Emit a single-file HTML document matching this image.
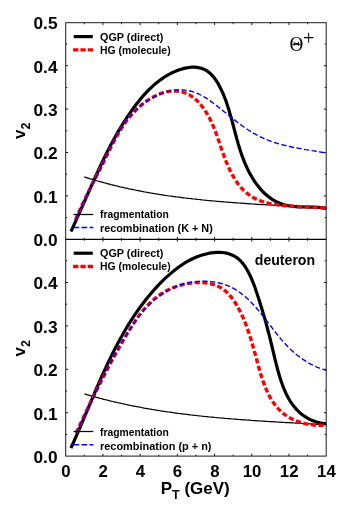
<!DOCTYPE html>
<html><head><meta charset="utf-8"><title>v2 plot</title>
<style>html,body{margin:0;padding:0;background:#fff}svg{display:block}</style></head>
<body>
<svg width="349" height="522" viewBox="0 0 349 522" style="will-change:transform">
<rect width="349" height="522" fill="#fff"/>
<defs><clipPath id="ct"><rect x="65.7" y="22.7" width="260.5" height="216.60000000000002"/></clipPath><clipPath id="cb"><rect x="65.7" y="239.3" width="260.5" height="216.8"/></clipPath></defs>
<g clip-path="url(#ct)" fill="none" stroke-linejoin="round">
<path d="M70.9,231.5 L72.1,229.1 L73.2,226.6 L74.3,224.1 L75.5,221.7 L76.6,219.2 L77.7,216.7 L78.8,214.3 L79.9,211.8 L81.0,209.3 L82.1,206.8 L83.2,204.3 L84.3,201.8 L85.4,199.4 L86.5,196.9 L87.6,194.4 L88.7,191.9 L89.8,189.4 L90.9,186.9 L92.0,184.4 L93.1,182.0 L94.2,179.5 L95.3,177.0 L96.4,174.5 L97.6,172.1 L98.7,169.6 L99.8,167.1 L101.0,164.7 L102.2,162.2 L103.3,159.8 L104.5,157.4 L105.7,154.9 L106.9,152.5 L108.1,150.1 L109.4,147.7 L110.6,145.3 L111.9,142.9 L113.2,140.5 L114.5,138.2 L115.8,135.8 L117.1,133.5 L118.5,131.1 L119.9,128.8 L121.2,126.5 L122.7,124.2 L124.1,121.9 L125.6,119.6 L127.0,117.3 L128.6,115.1 L130.1,112.9 L131.7,110.6 L133.2,108.4 L134.8,106.3 L136.5,104.1 L138.2,101.9 L139.9,99.8 L141.6,97.7 L143.4,95.6 L145.2,93.6 L147.1,91.6 L149.0,89.7 L150.9,87.8 L152.9,85.9 L155.0,84.1 L157.1,82.4 L159.2,80.7 L161.5,79.1 L163.7,77.5 L166.1,76.0 L168.5,74.7 L171.0,73.3 L173.5,72.1 L176.1,71.0 L178.7,70.0 L181.4,69.2 L184.0,68.4 L186.6,67.9 L189.3,67.5 L191.8,67.2 L194.4,67.2 L196.9,67.4 L199.3,67.8 L201.7,68.4 L203.9,69.2 L206.1,70.4 L208.1,71.7 L210.1,73.3 L211.9,75.1 L213.6,77.1 L215.3,79.3 L216.8,81.5 L218.3,83.9 L219.6,86.4 L220.9,89.0 L222.1,91.5 L223.3,94.1 L224.3,96.7 L225.3,99.3 L226.3,101.9 L227.2,104.6 L228.0,107.2 L228.9,109.8 L229.6,112.5 L230.4,115.1 L231.2,117.8 L231.9,120.4 L232.6,123.0 L233.3,125.7 L234.0,128.3 L234.7,131.0 L235.4,133.6 L236.1,136.2 L236.8,138.9 L237.6,141.5 L238.3,144.1 L239.1,146.7 L239.9,149.2 L240.7,151.8 L241.6,154.4 L242.5,156.9 L243.5,159.4 L244.4,161.9 L245.5,164.4 L246.6,166.9 L247.7,169.3 L248.9,171.8 L250.2,174.2 L251.6,176.5 L253.0,178.9 L254.4,181.1 L256.0,183.4 L257.6,185.5 L259.3,187.6 L261.0,189.7 L262.8,191.6 L264.7,193.5 L266.7,195.2 L268.7,196.9 L270.8,198.4 L273.0,199.8 L275.3,201.1 L277.6,202.3 L280.1,203.3 L282.6,204.2 L285.1,205.0 L287.8,205.6 L290.5,206.0 L293.3,206.4 L296.1,206.6 L298.9,206.8 L301.8,206.9 L304.7,207.0 L307.5,207.0 L310.4,207.1 L313.2,207.2 L315.9,207.3 L318.6,207.4 L321.3,207.6 L323.8,207.9 L326.3,208.3" stroke="#000" stroke-width="3.2"/>
<path d="M84.3,176.9 L85.8,177.4 L87.2,177.8 L88.7,178.3 L90.2,178.8 L91.7,179.2 L93.2,179.7 L94.6,180.1 L96.1,180.5 L97.6,181.0 L99.1,181.4 L100.6,181.8 L102.0,182.2 L103.5,182.6 L105.0,183.0 L106.5,183.4 L108.0,183.8 L109.5,184.2 L111.0,184.6 L112.5,184.9 L114.0,185.3 L115.5,185.7 L117.0,186.0 L118.4,186.4 L119.9,186.8 L121.4,187.1 L122.9,187.4 L124.4,187.8 L125.9,188.1 L127.4,188.4 L128.9,188.8 L130.4,189.1 L131.9,189.4 L133.5,189.7 L135.0,190.0 L136.5,190.3 L138.0,190.6 L139.5,190.9 L141.0,191.2 L142.5,191.5 L144.0,191.8 L145.5,192.0 L147.0,192.3 L148.5,192.6 L150.1,192.9 L151.6,193.1 L153.1,193.4 L154.6,193.6 L156.1,193.9 L157.6,194.1 L159.1,194.4 L160.7,194.6 L162.2,194.8 L163.7,195.1 L165.2,195.3 L166.7,195.5 L168.3,195.8 L169.8,196.0 L171.3,196.2 L172.8,196.4 L174.3,196.6 L175.9,196.8 L177.4,197.0 L178.9,197.2 L180.4,197.4 L182.0,197.6 L183.5,197.8 L185.0,198.0 L186.5,198.2 L188.1,198.3 L189.6,198.5 L191.1,198.7 L192.7,198.9 L194.2,199.0 L195.7,199.2 L197.3,199.4 L198.8,199.5 L200.3,199.7 L201.8,199.9 L203.4,200.0 L204.9,200.2 L206.4,200.3 L208.0,200.5 L209.5,200.6 L211.0,200.8 L212.6,200.9 L214.1,201.0 L215.6,201.2 L217.2,201.3 L218.7,201.4 L220.2,201.6 L221.8,201.7 L223.3,201.8 L224.9,202.0 L226.4,202.1 L227.9,202.2 L229.5,202.3 L231.0,202.4 L232.5,202.6 L234.1,202.7 L235.6,202.8 L237.2,202.9 L238.7,203.0 L240.2,203.1 L241.8,203.2 L243.3,203.3 L244.8,203.4 L246.4,203.6 L247.9,203.7 L249.5,203.8 L251.0,203.9 L252.5,204.0 L254.1,204.1 L255.6,204.2 L257.2,204.3 L258.7,204.4 L260.2,204.5 L261.8,204.5 L263.3,204.6 L264.8,204.7 L266.4,204.8 L267.9,204.9 L269.5,205.0 L271.0,205.1 L272.5,205.2 L274.1,205.3 L275.6,205.4 L277.2,205.5 L278.7,205.6 L280.2,205.6 L281.8,205.7 L283.3,205.8 L284.9,205.9 L286.4,206.0 L287.9,206.1 L289.5,206.2 L291.0,206.3 L292.5,206.3 L294.1,206.4 L295.6,206.5 L297.1,206.6 L298.7,206.7 L300.2,206.8 L301.8,206.9 L303.3,207.0 L304.8,207.1 L306.4,207.2 L307.9,207.2 L309.4,207.3 L311.0,207.4 L312.5,207.5 L314.0,207.6 L315.6,207.7 L317.1,207.8 L318.6,207.9 L320.2,208.0 L321.7,208.1 L323.2,208.2 L324.8,208.3 L326.3,208.4" stroke="#000" stroke-width="1.25"/>
<path d="M75.6,219.9 L76.5,217.7 L77.5,215.4 L78.4,213.2 L79.4,211.0 L80.4,208.8 L81.4,206.6 L82.4,204.4 L83.4,202.2 L84.5,200.0 L85.5,197.9 L86.6,195.7 L87.6,193.5 L88.7,191.4 L89.8,189.2 L90.9,187.1 L92.0,184.9 L93.0,182.7 L94.1,180.6 L95.2,178.5 L96.3,176.3 L97.4,174.2 L98.5,172.0 L99.6,169.9 L100.7,167.7 L101.8,165.6 L102.9,163.4 L104.0,161.3 L105.1,159.1 L106.1,156.9 L107.2,154.8 L108.3,152.6 L109.4,150.4 L110.4,148.3 L111.5,146.1 L112.6,144.0 L113.7,141.8 L114.9,139.7 L116.0,137.6 L117.2,135.5 L118.4,133.4 L119.6,131.3 L120.9,129.3 L122.1,127.3 L123.5,125.3 L124.8,123.3 L126.2,121.3 L127.7,119.4 L129.2,117.5 L130.7,115.7 L132.3,113.8 L134.0,112.0 L135.7,110.3 L137.4,108.6 L139.3,106.9 L141.2,105.2 L143.1,103.7 L145.2,102.1 L147.2,100.7 L149.3,99.3 L151.5,98.0 L153.7,96.8 L155.9,95.7 L158.1,94.6 L160.4,93.7 L162.7,92.9 L164.9,92.3 L167.2,91.7 L169.5,91.3 L171.8,91.1 L174.1,91.0 L176.4,91.0 L178.6,91.3 L180.9,91.7 L183.1,92.2 L185.2,93.0 L187.3,93.9 L189.4,94.9 L191.4,96.1 L193.3,97.5 L195.1,99.0 L196.9,100.6 L198.6,102.3 L200.2,104.1 L201.8,106.0 L203.2,107.9 L204.6,109.9 L206.0,111.9 L207.2,114.0 L208.4,116.1 L209.6,118.2 L210.7,120.4 L211.7,122.6 L212.7,124.8 L213.6,127.0 L214.5,129.3 L215.4,131.5 L216.3,133.8 L217.1,136.1 L217.9,138.4 L218.7,140.7 L219.5,143.0 L220.3,145.4 L221.1,147.7 L221.9,150.0 L222.7,152.4 L223.6,154.7 L224.4,157.0 L225.3,159.3 L226.2,161.7 L227.2,163.9 L228.1,166.2 L229.2,168.5 L230.2,170.7 L231.3,172.9 L232.5,175.1 L233.7,177.2 L235.0,179.3 L236.3,181.3 L237.6,183.3 L239.1,185.1 L240.6,187.0 L242.1,188.7 L243.7,190.4 L245.4,192.0 L247.2,193.4 L249.0,194.8 L250.9,196.1 L252.8,197.3 L254.8,198.4 L256.9,199.4 L259.1,200.3 L261.3,201.1 L263.5,201.8 L265.8,202.5 L268.1,203.1 L270.5,203.6 L272.9,204.1 L275.3,204.5 L277.8,204.9 L280.2,205.2 L282.7,205.5 L285.2,205.7 L287.7,205.9 L290.1,206.1 L292.6,206.2 L295.1,206.4 L297.5,206.5 L300.0,206.6 L302.4,206.7 L304.9,206.8 L307.3,206.9 L309.7,207.0 L312.1,207.1 L314.5,207.2 L316.9,207.4 L319.2,207.6 L321.6,207.8 L323.9,208.0 L326.3,208.3" stroke="#ff0000" stroke-width="3.4" stroke-dasharray="5.1 2.6"/>
<path d="M75.6,219.9 L76.4,217.9 L77.3,215.9 L78.1,214.0 L79.0,212.0 L79.9,210.1 L80.7,208.1 L81.6,206.2 L82.6,204.3 L83.5,202.4 L84.4,200.5 L85.4,198.6 L86.3,196.7 L87.3,194.8 L88.2,192.9 L89.2,191.0 L90.1,189.1 L91.1,187.2 L92.1,185.3 L93.0,183.5 L94.0,181.6 L94.9,179.7 L95.9,177.8 L96.8,175.9 L97.8,174.0 L98.7,172.1 L99.7,170.2 L100.6,168.3 L101.5,166.3 L102.4,164.4 L103.3,162.5 L104.2,160.5 L105.1,158.6 L106.0,156.7 L106.9,154.7 L107.8,152.8 L108.7,150.8 L109.7,148.9 L110.6,147.0 L111.5,145.1 L112.5,143.2 L113.5,141.3 L114.5,139.4 L115.5,137.5 L116.5,135.6 L117.6,133.8 L118.6,131.9 L119.7,130.1 L120.9,128.3 L122.1,126.5 L123.3,124.8 L124.5,123.0 L125.8,121.3 L127.1,119.6 L128.4,118.0 L129.8,116.3 L131.3,114.7 L132.8,113.1 L134.3,111.6 L135.9,110.1 L137.5,108.6 L139.1,107.2 L140.8,105.8 L142.5,104.4 L144.3,103.1 L146.1,101.8 L147.9,100.6 L149.7,99.4 L151.6,98.3 L153.5,97.3 L155.4,96.3 L157.3,95.4 L159.2,94.5 L161.2,93.7 L163.2,93.0 L165.2,92.3 L167.2,91.7 L169.2,91.2 L171.2,90.8 L173.2,90.4 L175.2,90.1 L177.2,90.0 L179.2,89.9 L181.2,89.8 L183.2,89.9 L185.2,90.1 L187.2,90.4 L189.2,90.7 L191.1,91.2 L193.1,91.8 L195.0,92.4 L196.9,93.2 L198.8,94.0 L200.7,95.0 L202.5,96.0 L204.4,97.1 L206.2,98.2 L208.0,99.4 L209.9,100.6 L211.6,101.9 L213.4,103.2 L215.2,104.6 L217.0,105.9 L218.7,107.3 L220.4,108.7 L222.2,110.1 L223.9,111.5 L225.6,112.8 L227.3,114.2 L229.0,115.6 L230.7,116.9 L232.4,118.3 L234.0,119.6 L235.7,120.9 L237.4,122.2 L239.1,123.5 L240.8,124.7 L242.5,126.0 L244.2,127.2 L246.0,128.4 L247.7,129.5 L249.4,130.7 L251.2,131.8 L253.0,132.9 L254.8,133.9 L256.6,134.9 L258.4,135.9 L260.3,136.8 L262.2,137.7 L264.1,138.6 L266.0,139.4 L268.0,140.2 L269.9,140.9 L271.9,141.7 L274.0,142.3 L276.0,143.0 L278.0,143.6 L280.1,144.2 L282.2,144.7 L284.3,145.3 L286.4,145.8 L288.5,146.3 L290.6,146.7 L292.7,147.2 L294.8,147.6 L297.0,148.0 L299.1,148.4 L301.2,148.8 L303.3,149.2 L305.5,149.6 L307.6,149.9 L309.7,150.3 L311.8,150.6 L313.9,150.9 L316.0,151.3 L318.1,151.6 L320.2,152.0 L322.2,152.3 L324.3,152.7 L326.3,153.0" stroke="#0000ff" stroke-width="1.4" stroke-dasharray="5.2 2.5"/>
</g>
<g clip-path="url(#cb)" fill="none" stroke-linejoin="round">
<path d="M70.9,448.0 L72.1,445.3 L73.4,442.6 L74.6,439.9 L75.8,437.1 L77.0,434.4 L78.2,431.7 L79.4,428.9 L80.5,426.2 L81.7,423.4 L82.9,420.7 L84.1,417.9 L85.2,415.1 L86.4,412.4 L87.6,409.6 L88.7,406.8 L89.9,404.1 L91.1,401.3 L92.2,398.6 L93.4,395.8 L94.6,393.0 L95.7,390.3 L96.9,387.5 L98.1,384.8 L99.3,382.0 L100.5,379.3 L101.7,376.5 L103.0,373.8 L104.2,371.1 L105.5,368.4 L106.7,365.7 L108.0,363.0 L109.3,360.3 L110.6,357.6 L111.9,354.9 L113.2,352.2 L114.5,349.6 L115.9,346.9 L117.3,344.3 L118.7,341.7 L120.1,339.1 L121.6,336.5 L123.0,333.9 L124.5,331.3 L126.0,328.7 L127.5,326.2 L129.1,323.7 L130.7,321.2 L132.3,318.7 L133.9,316.2 L135.6,313.7 L137.2,311.3 L139.0,308.8 L140.7,306.4 L142.5,304.1 L144.3,301.7 L146.1,299.3 L148.0,297.0 L149.9,294.7 L151.9,292.4 L153.8,290.2 L155.9,287.9 L157.9,285.7 L160.0,283.5 L162.1,281.4 L164.3,279.2 L166.5,277.1 L168.8,275.1 L171.1,273.1 L173.4,271.1 L175.8,269.3 L178.2,267.4 L180.7,265.7 L183.2,264.0 L185.7,262.4 L188.4,260.9 L191.0,259.5 L193.7,258.2 L196.5,257.0 L199.3,256.0 L202.2,255.0 L205.1,254.2 L208.0,253.5 L211.0,252.9 L213.9,252.6 L216.8,252.4 L219.7,252.3 L222.5,252.5 L225.3,252.9 L228.0,253.5 L230.6,254.4 L233.1,255.4 L235.5,256.8 L237.8,258.4 L239.9,260.2 L241.8,262.3 L243.7,264.6 L245.4,267.0 L247.0,269.7 L248.5,272.4 L249.9,275.2 L251.3,278.1 L252.5,281.1 L253.7,284.1 L254.8,287.0 L255.8,290.0 L256.8,293.0 L257.8,295.9 L258.7,298.8 L259.6,301.6 L260.5,304.5 L261.4,307.3 L262.2,310.1 L263.1,312.9 L263.9,315.6 L264.7,318.4 L265.5,321.2 L266.2,323.9 L267.0,326.7 L267.7,329.5 L268.4,332.3 L269.2,335.1 L269.9,337.9 L270.6,340.8 L271.3,343.6 L272.0,346.5 L272.7,349.5 L273.4,352.4 L274.1,355.4 L274.8,358.4 L275.6,361.5 L276.3,364.5 L277.1,367.5 L277.9,370.5 L278.8,373.5 L279.6,376.5 L280.6,379.5 L281.6,382.4 L282.6,385.3 L283.7,388.1 L284.9,390.9 L286.1,393.6 L287.4,396.2 L288.8,398.8 L290.3,401.3 L291.9,403.6 L293.6,405.9 L295.4,408.1 L297.2,410.2 L299.2,412.1 L301.3,414.0 L303.6,415.7 L305.9,417.2 L308.4,418.7 L311.0,419.9 L313.8,421.0 L316.7,422.0 L319.7,422.7 L322.9,423.3 L326.3,423.7" stroke="#000" stroke-width="3.2"/>
<path d="M84.5,393.9 L86.0,394.3 L87.5,394.8 L88.9,395.2 L90.4,395.6 L91.9,396.1 L93.4,396.5 L94.9,396.9 L96.4,397.3 L97.8,397.7 L99.3,398.1 L100.8,398.5 L102.3,398.9 L103.8,399.3 L105.3,399.6 L106.8,400.0 L108.3,400.4 L109.8,400.8 L111.2,401.1 L112.7,401.5 L114.2,401.8 L115.7,402.2 L117.2,402.5 L118.7,402.9 L120.2,403.2 L121.7,403.5 L123.2,403.9 L124.7,404.2 L126.2,404.5 L127.7,404.8 L129.2,405.2 L130.7,405.5 L132.2,405.8 L133.7,406.1 L135.3,406.4 L136.8,406.7 L138.3,406.9 L139.8,407.2 L141.3,407.5 L142.8,407.8 L144.3,408.1 L145.8,408.3 L147.3,408.6 L148.8,408.9 L150.3,409.1 L151.9,409.4 L153.4,409.6 L154.9,409.9 L156.4,410.1 L157.9,410.4 L159.4,410.6 L160.9,410.9 L162.5,411.1 L164.0,411.3 L165.5,411.6 L167.0,411.8 L168.5,412.0 L170.1,412.2 L171.6,412.4 L173.1,412.7 L174.6,412.9 L176.1,413.1 L177.7,413.3 L179.2,413.5 L180.7,413.7 L182.2,413.9 L183.8,414.1 L185.3,414.2 L186.8,414.4 L188.3,414.6 L189.9,414.8 L191.4,415.0 L192.9,415.2 L194.4,415.3 L196.0,415.5 L197.5,415.7 L199.0,415.8 L200.5,416.0 L202.1,416.2 L203.6,416.3 L205.1,416.5 L206.7,416.6 L208.2,416.8 L209.7,417.0 L211.3,417.1 L212.8,417.2 L214.3,417.4 L215.8,417.5 L217.4,417.7 L218.9,417.8 L220.4,418.0 L222.0,418.1 L223.5,418.2 L225.0,418.4 L226.6,418.5 L228.1,418.6 L229.6,418.7 L231.2,418.9 L232.7,419.0 L234.2,419.1 L235.8,419.2 L237.3,419.3 L238.8,419.5 L240.4,419.6 L241.9,419.7 L243.5,419.8 L245.0,419.9 L246.5,420.0 L248.1,420.1 L249.6,420.2 L251.1,420.4 L252.7,420.5 L254.2,420.6 L255.7,420.7 L257.3,420.8 L258.8,420.9 L260.3,421.0 L261.9,421.1 L263.4,421.2 L264.9,421.3 L266.5,421.4 L268.0,421.5 L269.6,421.6 L271.1,421.6 L272.6,421.7 L274.2,421.8 L275.7,421.9 L277.2,422.0 L278.8,422.1 L280.3,422.2 L281.8,422.3 L283.4,422.4 L284.9,422.5 L286.4,422.5 L288.0,422.6 L289.5,422.7 L291.1,422.8 L292.6,422.9 L294.1,423.0 L295.7,423.1 L297.2,423.2 L298.7,423.2 L300.3,423.3 L301.8,423.4 L303.3,423.5 L304.9,423.6 L306.4,423.7 L307.9,423.8 L309.5,423.8 L311.0,423.9 L312.5,424.0 L314.1,424.1 L315.6,424.2 L317.1,424.3 L318.6,424.4 L320.2,424.4 L321.7,424.5 L323.2,424.6 L324.8,424.7 L326.3,424.8" stroke="#000" stroke-width="1.25"/>
<path d="M76.2,433.0 L77.3,430.6 L78.4,428.2 L79.5,425.9 L80.6,423.5 L81.7,421.1 L82.8,418.8 L83.9,416.4 L85.0,414.0 L86.2,411.7 L87.3,409.3 L88.4,406.9 L89.6,404.6 L90.7,402.2 L91.8,399.9 L93.0,397.5 L94.1,395.2 L95.3,392.8 L96.5,390.5 L97.6,388.1 L98.8,385.8 L100.0,383.4 L101.2,381.1 L102.4,378.8 L103.6,376.4 L104.8,374.1 L106.0,371.8 L107.2,369.5 L108.4,367.2 L109.7,364.9 L110.9,362.5 L112.1,360.2 L113.4,357.9 L114.7,355.6 L115.9,353.4 L117.2,351.1 L118.5,348.8 L119.8,346.5 L121.1,344.2 L122.4,342.0 L123.7,339.7 L125.0,337.4 L126.4,335.2 L127.7,332.9 L129.1,330.7 L130.4,328.5 L131.8,326.3 L133.2,324.1 L134.7,321.9 L136.1,319.7 L137.6,317.6 L139.1,315.5 L140.7,313.5 L142.3,311.4 L143.9,309.5 L145.6,307.5 L147.4,305.6 L149.1,303.8 L151.0,302.0 L152.9,300.3 L154.8,298.6 L156.9,297.0 L158.9,295.5 L161.1,294.0 L163.3,292.6 L165.6,291.3 L168.0,290.0 L170.4,288.9 L172.9,287.8 L175.5,286.8 L178.0,285.9 L180.6,285.2 L183.3,284.5 L185.9,283.9 L188.6,283.4 L191.2,283.0 L193.9,282.7 L196.6,282.5 L199.3,282.5 L201.9,282.5 L204.5,282.7 L207.1,283.1 L209.6,283.5 L212.1,284.1 L214.5,284.8 L216.9,285.7 L219.1,286.8 L221.3,288.0 L223.4,289.4 L225.3,290.9 L227.2,292.6 L229.0,294.4 L230.6,296.4 L232.2,298.4 L233.7,300.5 L235.2,302.7 L236.5,304.9 L237.9,307.2 L239.1,309.5 L240.3,311.8 L241.4,314.1 L242.5,316.4 L243.6,318.8 L244.6,321.2 L245.6,323.6 L246.5,326.0 L247.4,328.5 L248.2,330.9 L249.1,333.4 L249.9,335.9 L250.7,338.4 L251.4,341.0 L252.2,343.5 L252.9,346.0 L253.6,348.6 L254.3,351.2 L255.1,353.8 L255.8,356.3 L256.5,358.9 L257.2,361.5 L257.9,364.1 L258.6,366.7 L259.4,369.3 L260.1,371.9 L260.9,374.5 L261.7,377.1 L262.6,379.7 L263.4,382.2 L264.4,384.7 L265.3,387.1 L266.3,389.6 L267.4,391.9 L268.5,394.3 L269.7,396.6 L271.0,398.8 L272.3,400.9 L273.7,403.0 L275.2,405.1 L276.7,407.0 L278.4,408.9 L280.1,410.6 L282.0,412.3 L283.9,413.9 L286.0,415.4 L288.1,416.8 L290.3,418.1 L292.6,419.3 L295.0,420.4 L297.4,421.3 L299.9,422.2 L302.5,423.0 L305.0,423.6 L307.6,424.2 L310.3,424.6 L312.9,424.9 L315.6,425.2 L318.3,425.2 L321.0,425.2 L323.6,425.1 L326.3,424.8" stroke="#ff0000" stroke-width="3.4" stroke-dasharray="5.1 2.6"/>
<path d="M76.2,433.0 L77.2,430.9 L78.2,428.8 L79.3,426.8 L80.3,424.7 L81.3,422.6 L82.3,420.5 L83.3,418.5 L84.3,416.4 L85.3,414.3 L86.3,412.2 L87.3,410.2 L88.2,408.1 L89.2,406.0 L90.2,403.9 L91.2,401.8 L92.2,399.8 L93.2,397.7 L94.2,395.6 L95.2,393.6 L96.1,391.5 L97.1,389.4 L98.1,387.4 L99.1,385.3 L100.1,383.2 L101.1,381.2 L102.1,379.1 L103.2,377.0 L104.2,375.0 L105.2,372.9 L106.2,370.9 L107.3,368.8 L108.3,366.8 L109.4,364.8 L110.4,362.7 L111.5,360.7 L112.6,358.7 L113.7,356.6 L114.8,354.6 L115.9,352.6 L117.0,350.6 L118.1,348.5 L119.3,346.5 L120.4,344.5 L121.6,342.5 L122.8,340.5 L124.0,338.5 L125.2,336.6 L126.4,334.6 L127.6,332.6 L128.9,330.6 L130.2,328.7 L131.5,326.8 L132.8,324.9 L134.1,323.0 L135.4,321.1 L136.8,319.2 L138.2,317.4 L139.6,315.6 L141.1,313.8 L142.5,312.0 L144.0,310.3 L145.5,308.6 L147.1,307.0 L148.7,305.4 L150.3,303.8 L151.9,302.2 L153.6,300.7 L155.2,299.3 L157.0,297.8 L158.7,296.5 L160.5,295.1 L162.4,293.9 L164.2,292.6 L166.1,291.5 L168.1,290.4 L170.0,289.3 L172.0,288.3 L174.1,287.4 L176.2,286.5 L178.3,285.7 L180.5,284.9 L182.7,284.2 L185.0,283.6 L187.3,283.1 L189.6,282.6 L192.0,282.2 L194.3,281.8 L196.7,281.6 L199.1,281.4 L201.5,281.3 L203.9,281.2 L206.3,281.3 L208.7,281.4 L211.1,281.6 L213.4,281.9 L215.8,282.2 L218.1,282.7 L220.3,283.2 L222.5,283.8 L224.7,284.5 L226.8,285.3 L228.9,286.2 L231.0,287.1 L232.9,288.1 L234.9,289.2 L236.8,290.4 L238.6,291.6 L240.5,292.9 L242.2,294.3 L244.0,295.7 L245.7,297.1 L247.4,298.6 L249.0,300.2 L250.6,301.8 L252.2,303.4 L253.8,305.1 L255.3,306.8 L256.8,308.5 L258.3,310.3 L259.8,312.1 L261.3,313.9 L262.7,315.7 L264.2,317.5 L265.6,319.4 L267.0,321.2 L268.4,323.1 L269.8,324.9 L271.3,326.8 L272.7,328.7 L274.1,330.5 L275.6,332.4 L277.0,334.2 L278.5,336.0 L279.9,337.8 L281.4,339.6 L283.0,341.4 L284.5,343.1 L286.1,344.8 L287.7,346.5 L289.3,348.1 L290.9,349.7 L292.6,351.2 L294.3,352.8 L296.1,354.2 L297.9,355.7 L299.7,357.1 L301.5,358.4 L303.4,359.7 L305.3,360.9 L307.2,362.1 L309.2,363.3 L311.2,364.4 L313.3,365.4 L315.4,366.4 L317.5,367.3 L319.6,368.1 L321.8,368.9 L324.0,369.6 L326.3,370.3" stroke="#0000ff" stroke-width="1.4" stroke-dasharray="5.2 2.5"/>
</g>
<g stroke="#1a1a1a" stroke-width="1" fill="none">
<rect x="65.7" y="22.7" width="260.5" height="433.40000000000003"/>
<line x1="65.7" y1="239.3" x2="326.2" y2="239.3" stroke="#000" stroke-width="1.3"/>
<path d="M84.31,22.7v1.5 M84.31,239.3v-1.5 M84.31,239.3v1.5 M84.31,456.1v-1.5 M102.91,22.7v2.4 M102.91,239.3v-2.4 M102.91,239.3v2.4 M102.91,456.1v-2.4 M121.52,22.7v1.5 M121.52,239.3v-1.5 M121.52,239.3v1.5 M121.52,456.1v-1.5 M140.13,22.7v2.4 M140.13,239.3v-2.4 M140.13,239.3v2.4 M140.13,456.1v-2.4 M158.74,22.7v1.5 M158.74,239.3v-1.5 M158.74,239.3v1.5 M158.74,456.1v-1.5 M177.34,22.7v2.4 M177.34,239.3v-2.4 M177.34,239.3v2.4 M177.34,456.1v-2.4 M195.95,22.7v1.5 M195.95,239.3v-1.5 M195.95,239.3v1.5 M195.95,456.1v-1.5 M214.56,22.7v2.4 M214.56,239.3v-2.4 M214.56,239.3v2.4 M214.56,456.1v-2.4 M233.16,22.7v1.5 M233.16,239.3v-1.5 M233.16,239.3v1.5 M233.16,456.1v-1.5 M251.77,22.7v2.4 M251.77,239.3v-2.4 M251.77,239.3v2.4 M251.77,456.1v-2.4 M270.38,22.7v1.5 M270.38,239.3v-1.5 M270.38,239.3v1.5 M270.38,456.1v-1.5 M288.99,22.7v2.4 M288.99,239.3v-2.4 M288.99,239.3v2.4 M288.99,456.1v-2.4 M307.59,22.7v1.5 M307.59,239.3v-1.5 M307.59,239.3v1.5 M307.59,456.1v-1.5 M65.7,217.60h1.5 M326.2,217.60h-1.5 M65.7,434.40h1.5 M326.2,434.40h-1.5 M65.7,195.90h2.4 M326.2,195.90h-2.4 M65.7,412.70h2.4 M326.2,412.70h-2.4 M65.7,174.20h1.5 M326.2,174.20h-1.5 M65.7,391.00h1.5 M326.2,391.00h-1.5 M65.7,152.50h2.4 M326.2,152.50h-2.4 M65.7,369.30h2.4 M326.2,369.30h-2.4 M65.7,130.80h1.5 M326.2,130.80h-1.5 M65.7,347.60h1.5 M326.2,347.60h-1.5 M65.7,109.10h2.4 M326.2,109.10h-2.4 M65.7,325.90h2.4 M326.2,325.90h-2.4 M65.7,87.40h1.5 M326.2,87.40h-1.5 M65.7,304.20h1.5 M326.2,304.20h-1.5 M65.7,65.70h2.4 M326.2,65.70h-2.4 M65.7,282.50h2.4 M326.2,282.50h-2.4 M65.7,44.00h1.5 M326.2,44.00h-1.5 M65.7,260.80h1.5 M326.2,260.80h-1.5"/>
</g>
<g font-family="'Liberation Sans', Arial, sans-serif" font-weight="bold" fill="#000" style="filter:grayscale(1)">
<text x="57.5" y="246.2" font-size="17.3" text-anchor="end">0.0</text>
<text x="57.5" y="202.8" font-size="17.3" text-anchor="end">0.1</text>
<text x="57.5" y="159.4" font-size="17.3" text-anchor="end">0.2</text>
<text x="57.5" y="116.0" font-size="17.3" text-anchor="end">0.3</text>
<text x="57.5" y="72.6" font-size="17.3" text-anchor="end">0.4</text>
<text x="57.5" y="29.2" font-size="17.3" text-anchor="end">0.5</text>
<text x="57.5" y="463.0" font-size="17.3" text-anchor="end">0.0</text>
<text x="57.5" y="419.6" font-size="17.3" text-anchor="end">0.1</text>
<text x="57.5" y="376.2" font-size="17.3" text-anchor="end">0.2</text>
<text x="57.5" y="332.8" font-size="17.3" text-anchor="end">0.3</text>
<text x="57.5" y="289.4" font-size="17.3" text-anchor="end">0.4</text>
<text x="65.9" y="477.3" font-size="16.8" text-anchor="middle">0</text>
<text x="103.1" y="477.3" font-size="16.8" text-anchor="middle">2</text>
<text x="140.3" y="477.3" font-size="16.8" text-anchor="middle">4</text>
<text x="177.5" y="477.3" font-size="16.8" text-anchor="middle">6</text>
<text x="214.8" y="477.3" font-size="16.8" text-anchor="middle">8</text>
<text x="252.0" y="477.3" font-size="16.8" text-anchor="middle">10</text>
<text x="289.2" y="477.3" font-size="16.8" text-anchor="middle">12</text>
<text x="326.4" y="477.3" font-size="16.8" text-anchor="middle">14</text>
<text x="160.7" y="494.3" font-size="17">P<tspan font-size="12.5" dy="4.2">T</tspan><tspan dy="-4.2"> (GeV)</tspan></text>
<text transform="translate(25.2,139) rotate(-90)" font-size="17">v<tspan font-size="12.5" dy="4.4">2</tspan></text>
<text transform="translate(25.2,356.5) rotate(-90)" font-size="17">v<tspan font-size="12.5" dy="4.4">2</tspan></text>
<text x="100" y="40.5" font-size="10.7" textLength="63.4" lengthAdjust="spacingAndGlyphs">QGP (direct)</text>
<text x="100" y="53.8" font-size="10.7" textLength="70.6" lengthAdjust="spacingAndGlyphs">HG (molecule)</text>
<text x="100" y="257.09999999999997" font-size="10.7" textLength="63.4" lengthAdjust="spacingAndGlyphs">QGP (direct)</text>
<text x="100" y="270.4" font-size="10.7" textLength="70.6" lengthAdjust="spacingAndGlyphs">HG (molecule)</text>
<text x="100" y="218.4" font-size="10.7" textLength="68.8" lengthAdjust="spacingAndGlyphs">fragmentation</text>
<text x="100" y="231.5" font-size="10.7" textLength="112.8" lengthAdjust="spacingAndGlyphs">recombination (K + N)</text>
<text x="100" y="436.3" font-size="10.7" textLength="68.8" lengthAdjust="spacingAndGlyphs">fragmentation</text>
<text x="100" y="449.6" font-size="10.7" textLength="111.5" lengthAdjust="spacingAndGlyphs">recombination (p + n)</text>
<text x="254.8" y="264.5" font-size="14.1">deuteron</text>
</g>
<g font-family="'Liberation Serif', 'DejaVu Serif', serif" fill="#000" style="filter:grayscale(1)">
<text x="289.6" y="51" font-size="20" textLength="13.8" lengthAdjust="spacingAndGlyphs">Θ</text>
<text x="302.9" y="44.9" font-size="20">+</text>
</g>
<line x1="73.7" y1="36.6" x2="92.8" y2="36.6" stroke="#000" stroke-width="3.2"/>
<line x1="73.1" y1="49.9" x2="93" y2="49.9" stroke="#ff0000" stroke-width="3.4" stroke-dasharray="5.3 2.0"/>
<line x1="73.7" y1="253.2" x2="92.8" y2="253.2" stroke="#000" stroke-width="3.2"/>
<line x1="73.1" y1="266.5" x2="93" y2="266.5" stroke="#ff0000" stroke-width="3.4" stroke-dasharray="5.3 2.0"/>
<line x1="73.5" y1="214.5" x2="93.3" y2="214.5" stroke="#000" stroke-width="1.25"/>
<line x1="73.5" y1="227.6" x2="93.3" y2="227.6" stroke="#0000ff" stroke-width="1.5" stroke-dasharray="5.7 2.3"/>
<line x1="73.5" y1="431.5" x2="93.3" y2="431.5" stroke="#000" stroke-width="1.25"/>
<line x1="73.5" y1="444.8" x2="93.3" y2="444.8" stroke="#0000ff" stroke-width="1.5" stroke-dasharray="5.7 2.3"/>
<line x1="292.3" y1="44.4" x2="300.6" y2="44.4" stroke="#000" stroke-width="0.9"/>
</svg>
</body></html>
